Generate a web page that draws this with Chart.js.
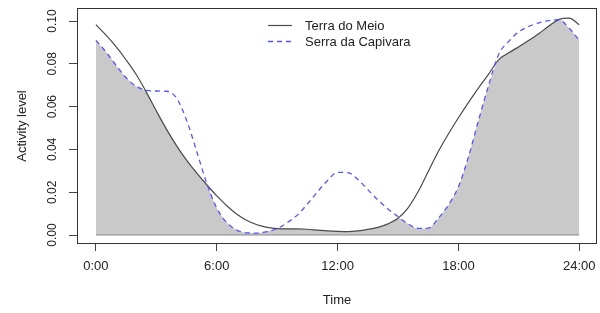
<!DOCTYPE html>
<html>
<head>
<meta charset="utf-8">
<script src="https://cdn.jsdelivr.net/npm/chart.js@4/dist/chart.umd.min.js"></script>
<style>
  html, body { margin: 0; padding: 0; background: #fff; }
</style>
</head>
<body>
<canvas id="chart" width="600" height="313"></canvas>
<script>
// time of day (hours), sampled every half hour
const hours = [0, 0.5, 1, 1.5, 2, 2.5, 3, 3.5, 4, 4.5, 5, 5.5, 6, 6.5, 7, 7.5, 8, 8.5, 9, 9.5,
  10, 10.5, 11, 11.5, 12, 12.5, 13, 13.5, 14, 14.5, 15, 15.5, 16, 16.5, 17, 17.5, 18, 18.5, 19, 19.5,
  20, 20.5, 21, 21.5, 22, 22.5, 23, 23.5, 24];

// activity density
const terraDoMeio = [0.0983, 0.0934, 0.0880, 0.0818, 0.0750, 0.0668, 0.0580, 0.0495, 0.0418, 0.0350,
  0.0290, 0.0235, 0.0183, 0.0137, 0.0097, 0.0068, 0.0048, 0.0036, 0.0030, 0.0029,
  0.0029, 0.0027, 0.0023, 0.0019, 0.0017, 0.0016, 0.0019, 0.0026, 0.0036, 0.0052,
  0.0078, 0.0127, 0.0203, 0.0297, 0.0390, 0.0472, 0.0548, 0.0620, 0.0688, 0.0752,
  0.0820, 0.0852, 0.0880, 0.0910, 0.0942, 0.0978, 0.1008, 0.1014, 0.0983];

const serraDaCapivara = [0.0910, 0.0855, 0.0793, 0.0735, 0.0695, 0.0676, 0.0673, 0.0672, 0.0640, 0.0537,
  0.0392, 0.0242, 0.0126, 0.0058, 0.0023, 0.0010, 0.0009, 0.0016, 0.0030, 0.0058,
  0.0093, 0.0145, 0.0202, 0.0255, 0.0293, 0.0292, 0.0260, 0.0212, 0.0164, 0.0122,
  0.0086, 0.0052, 0.0031, 0.0032, 0.0078, 0.0140, 0.0226, 0.0366, 0.0537, 0.0700,
  0.0845, 0.0905, 0.0950, 0.0975, 0.0992, 0.1002, 0.1006, 0.0966, 0.0910];

const seriesNames = ['Terra do Meio', 'Serra da Capivara'];
const xTicks = [0, 6, 12, 18, 24];
const yTicks = [0, 0.02, 0.04, 0.06, 0.08, 0.10];

const FONT = 'Liberation Sans, Arial, Helvetica, sans-serif';
const toPoints = vals => vals.map((v, i) => ({ x: hours[i], y: v }));
// overlap area = lower of the two curves
const overlap = terraDoMeio.map((v, i) => Math.min(v, serraDaCapivara[i]));

// box around the plot region, like R's bty="o"
const frame = {
  id: 'frame',
  afterDatasetsDraw(chart) {
    const { ctx, chartArea: a } = chart;
    ctx.save();
    ctx.strokeStyle = '#333';
    ctx.lineWidth = 1;
    ctx.strokeRect(Math.round(a.left) + 0.5, Math.round(a.top) + 0.5,
      Math.round(a.right - a.left) - 1, Math.round(a.bottom - a.top) - 1);
    ctx.restore();
  }
};

// legend inside the plot, top centre
const insideLegend = {
  id: 'insideLegend',
  afterDraw(chart) {
    const { ctx } = chart;
    const x0 = 268, x1 = 292, tx = 305;
    const rows = [25.5, 41.5];
    ctx.save();
    ctx.font = '13px ' + FONT;
    ctx.textBaseline = 'middle';
    ctx.fillStyle = '#222';
    [0, 1].forEach(i => {
      const ds = chart.data.datasets[i];
      ctx.strokeStyle = ds.borderColor;
      ctx.lineWidth = ds.borderWidth;
      ctx.setLineDash(ds.borderDash || []);
      ctx.beginPath();
      ctx.moveTo(x0, rows[i]);
      ctx.lineTo(x1, rows[i]);
      ctx.stroke();
      ctx.setLineDash([]);
      ctx.fillText(ds.label, tx, rows[i] + 0.5);
    });
    ctx.restore();
  }
};

const noPad = s => { s.paddingLeft = 0; s.paddingRight = 0; s.paddingTop = 0; s.paddingBottom = 0; };

const chart = new Chart(document.getElementById('chart').getContext('2d'), {
  type: 'line',
  data: {
    datasets: [
      { label: seriesNames[0], data: toPoints(terraDoMeio), borderColor: '#4a4a4a', borderWidth: 1.2,
        pointRadius: 0, fill: false, cubicInterpolationMode: 'monotone', order: 1 },
      { label: seriesNames[1], data: toPoints(serraDaCapivara), borderColor: '#5555ff', borderWidth: 1.3,
        borderDash: [5, 4], pointRadius: 0, fill: false, cubicInterpolationMode: 'monotone', order: 0 },
      { label: 'overlap', data: toPoints(overlap), borderWidth: 0, borderColor: 'rgba(0,0,0,0)',
        backgroundColor: '#c9c9c9', pointRadius: 0, fill: 'origin', cubicInterpolationMode: 'monotone', order: 3 },
      { label: 'base', data: [{ x: hours[0], y: 0 }, { x: hours[hours.length - 1], y: 0 }],
        borderColor: '#8a8a8a', borderWidth: 1, pointRadius: 0, fill: false, order: 2 }
    ]
  },
  options: {
    responsive: false,
    animation: false,
    devicePixelRatio: 1,
    layout: { padding: { top: 8, right: 3, left: 0, bottom: 0 } },
    plugins: { legend: { display: false }, tooltip: { enabled: false } },
    scales: {
      x: {
        type: 'linear', min: -0.94, max: 24.88,
        afterBuildTicks: s => { s.ticks = xTicks.map(v => ({ value: v })); },
        afterFit: s => { s.height = 69; noPad(s); },
        ticks: { color: '#222', padding: 8, font: { family: FONT, size: 13 },
          callback: v => v + ':00' },
        grid: { drawOnChartArea: false, drawTicks: true, tickLength: 7, color: '#444' },
        border: { display: false },
        title: { display: true, text: 'Time', color: '#222', font: { family: FONT, size: 13 },
          padding: { top: 0, bottom: 5 } }
      },
      y: {
        min: -0.0042, max: 0.1061,
        afterBuildTicks: s => { s.ticks = yTicks.map(v => ({ value: v })); },
        afterFit: s => { s.width = 77; noPad(s); },
        ticks: { color: '#222', padding: 5, minRotation: 90, maxRotation: 90, crossAlign: 'center',
          font: { family: FONT, size: 12 }, callback: v => v.toFixed(2) },
        grid: { drawOnChartArea: false, drawTicks: true, tickLength: 8, color: '#444' },
        border: { display: false },
        title: { display: true, text: 'Activity level', color: '#222', font: { family: FONT, size: 13 },
          padding: { top: 15, bottom: 0 } }
      }
    }
  },
  plugins: [frame, insideLegend]
});
</script>
</body>
</html>
